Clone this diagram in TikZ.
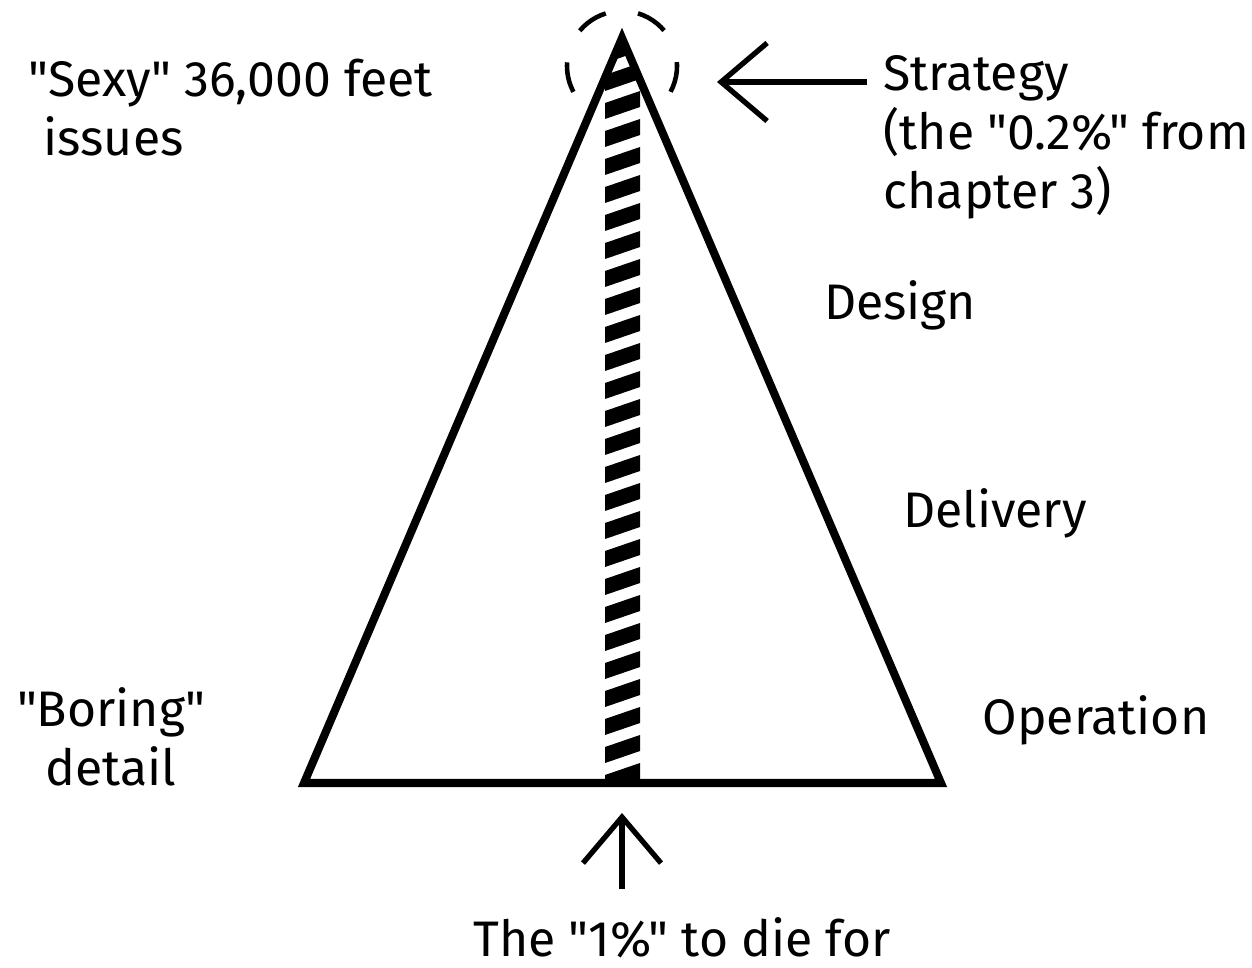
\documentclass[tikz,border=0pt]{standalone}
\usepackage{fontspec}
\setmainfont{Fira Sans}[Ligatures=TeXOff,Numbers=Proportional]
\usetikzlibrary{arrows.meta,positioning}

\begin{document}
\begin{tikzpicture}[x=0.01cm,y=-0.01cm,
    lbl/.style={inner sep=0pt,font=\fontsize{14.2}{16.8}\selectfont},
    arr/.style={-{Straight Barb[length=4.6mm,width=7.8mm]},line width=1.5pt},
    tri/.style={line width=2.3pt,line join=miter},
    ring/.style={line width=1.3pt,dash pattern=on 8.75pt off 9.84pt on 9pt off 9.3pt on 9pt off 9.84pt on 8.75pt}
  ]
    \useasboundingbox (0,0) rectangle (1252,967);
    % pyramid corners
    \coordinate (apex) at (622,38);
    \coordinate (bl) at (304,783);
    \coordinate (br) at (941,783);
    \coordinate (top) at (622,66);
    % hatched 1% stripe
    \begin{scope}
      \clip (apex) -- (bl) -- (br) -- cycle;
      \clip (605,0) rectangle (640,783);
      \foreach \k in {0,...,28}
        \fill (605,775-28*\k) -- (640,763-28*\k) -- (640,779-28*\k) -- (605,791-28*\k) -- cycle;
    \end{scope}
    \draw[tri] (apex) -- (bl) -- (br) -- cycle;
    % dashed ring round the apex
    \draw[ring] (top) ++(28:55) arc[start angle=28,end angle=-208,radius=55];
    % labels
    \node[lbl,anchor=west,align=left] (sexy) at (28,108) {"Sexy" 36,000 feet\\\hspace*{.3em}issues};
    \node[lbl,anchor=west,align=left] (strat) at (883,137) {Strategy\\(the "0.2\%" from\\chapter 3)};
    \node[lbl] (design) at (900,305) {Design};
    \node[lbl] (delivery) at (995,513) {Delivery};
    \node[lbl] (operation) at (1096,720) {Operation};
    \node[lbl,align=center] (boring) at (111,737) {"Boring"\\detail};
    \node[lbl] (onepct) at (682,938) {The "1\%" to die for};
    % pointers
    \coordinate (stratTail) at (867,82);
    \coordinate (stratTip) at (717,82);
    \coordinate (baseTip) at (622,813);
    \draw[arr] (stratTail) -- (stratTip);
    \draw[arr,shorten <=8pt] (onepct.north -| baseTip) -- (baseTip);
  \end{tikzpicture}
\end{document}
